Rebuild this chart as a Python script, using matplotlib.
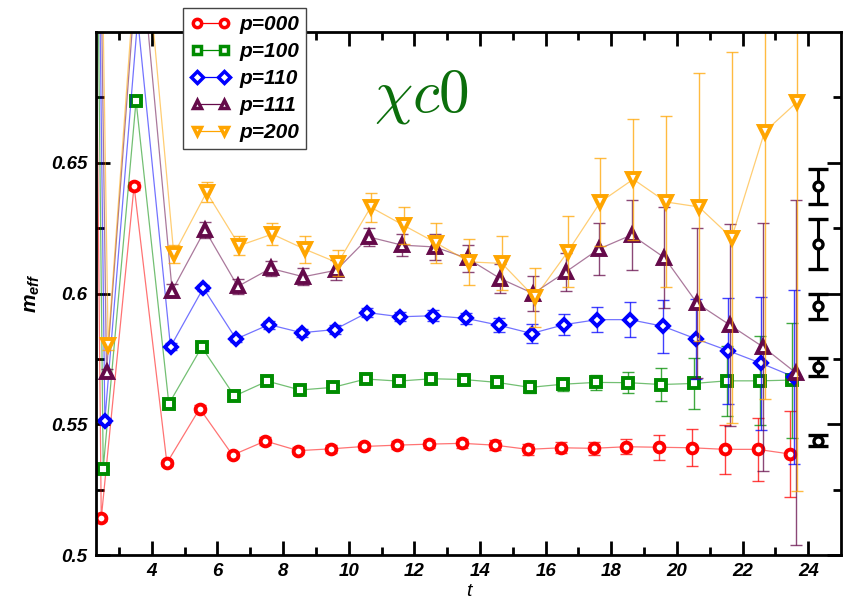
import matplotlib
matplotlib.use("Agg")
import matplotlib.pyplot as plt
from matplotlib.lines import Line2D
from matplotlib.ticker import FixedLocator, FormatStrFormatter

plt.rcParams['font.family'] = ['Liberation Sans', 'DejaVu Sans']
plt.rcParams['font.weight'] = 'bold'
plt.rcParams['font.style'] = 'italic'
plt.rcParams['mathtext.fontset'] = 'custom'
plt.rcParams['mathtext.it'] = 'Liberation Sans:bold:italic'
plt.rcParams['mathtext.rm'] = 'Liberation Sans:bold'

# time slices (the first one sits left of the plotted window)
t = [1.5, 2.5, 3.5, 4.5, 5.5, 6.5, 7.5, 8.5, 9.5, 10.5, 11.5, 12.5,
     13.5, 14.5, 15.5, 16.5, 17.5, 18.5, 19.5, 20.5, 21.5, 22.5, 23.5]

m_000 = [1.80, 0.5140, 0.6411, 0.5352, 0.5560, 0.5382, 0.5436, 0.5399, 0.5406, 0.5415, 0.5420, 0.5424,
         0.5427, 0.5420, 0.5404, 0.5410, 0.5408, 0.5414, 0.5412, 0.5410, 0.5404, 0.5404, 0.5386]
e_000 = [0.01, 0.0010, 0.0015, 0.0012, 0.0012, 0.0012, 0.0014, 0.0014, 0.0015, 0.0015, 0.0015, 0.0016,
         0.0017, 0.0018, 0.0020, 0.0021, 0.0024, 0.0029, 0.0047, 0.0071, 0.0094, 0.0121, 0.0165]

m_100 = [1.70, 0.5330, 0.6737, 0.5578, 0.5795, 0.5608, 0.5665, 0.5631, 0.5641, 0.5673, 0.5665, 0.5674,
         0.5671, 0.5660, 0.5641, 0.5653, 0.5660, 0.5659, 0.5652, 0.5656, 0.5666, 0.5666, 0.5669]
e_100 = [0.01, 0.0010, 0.0015, 0.0012, 0.0012, 0.0012, 0.0013, 0.0013, 0.0014, 0.0015, 0.0015, 0.0016,
         0.0018, 0.0019, 0.0021, 0.0025, 0.0030, 0.0041, 0.0062, 0.0098, 0.0134, 0.0170, 0.0220]

m_110 = [1.60, 0.5514, 0.7050, 0.5796, 0.6021, 0.5826, 0.5881, 0.5850, 0.5862, 0.5927, 0.5911, 0.5915,
         0.5905, 0.5879, 0.5847, 0.5881, 0.5900, 0.5900, 0.5875, 0.5827, 0.5781, 0.5733, 0.5681]
e_110 = [0.01, 0.0010, 0.0020, 0.0013, 0.0013, 0.0013, 0.0015, 0.0016, 0.0017, 0.0018, 0.0018, 0.0020,
         0.0022, 0.0027, 0.0035, 0.0040, 0.0048, 0.0068, 0.0102, 0.0153, 0.0203, 0.0255, 0.0333]

m_111 = [1.50, 0.5700, 0.7370, 0.6011, 0.6243, 0.6027, 0.6096, 0.6064, 0.6089, 0.6216, 0.6185, 0.6178,
         0.6134, 0.6057, 0.6000, 0.6083, 0.6170, 0.6224, 0.6137, 0.5962, 0.5879, 0.5796, 0.5697]
e_111 = [0.01, 0.0012, 0.0030, 0.0025, 0.0030, 0.0028, 0.0028, 0.0033, 0.0038, 0.0036, 0.0042, 0.0050,
         0.0053, 0.0054, 0.0067, 0.0073, 0.0098, 0.0134, 0.0192, 0.0287, 0.0387, 0.0475, 0.0660]

m_200 = [1.40, 0.5803, 0.7540, 0.6150, 0.6387, 0.6183, 0.6227, 0.6169, 0.6117, 0.6330, 0.6261, 0.6193,
         0.6121, 0.6115, 0.5985, 0.6159, 0.6350, 0.6437, 0.6350, 0.6331, 0.6213, 0.6618, 0.6733]
e_200 = [0.01, 0.0020, 0.0040, 0.0035, 0.0038, 0.0035, 0.0043, 0.0052, 0.0049, 0.0055, 0.0070, 0.0077,
         0.0089, 0.0103, 0.0113, 0.0136, 0.0168, 0.0232, 0.0327, 0.0514, 0.0709, 0.1020, 0.1490]

# plateau fits, one per momentum
fit_t = 24.3
fit_m = [0.6410, 0.6188, 0.5951, 0.5720, 0.5437]
fit_e = [0.0068, 0.0096, 0.0049, 0.0035, 0.0020]

labels = ['p=000', 'p=100', 'p=110', 'p=111', 'p=200']
values = [m_000, m_100, m_110, m_111, m_200]
errors = [e_000, e_100, e_110, e_111, e_200]
colors = ['#ff0000', '#008c00', '#0000ff', '#650a4a', '#ffa500']
markers = ['o', 's', 'D', '^', 'v']
msizes = [7, 6.5, 6.5, 8, 8]
shifts = [-0.04, 0.02, 0.07, 0.12, 0.17]

fig = plt.figure(figsize=(8.46, 6.03), dpi=100)
ax = fig.add_axes([96 / 846, 1 - 555 / 603, (841 - 96) / 846, (555 - 32) / 603])

handles = []
for m, e, c, mk, ms, dx, lab in zip(values, errors, colors, markers, msizes, shifts, labels):
    x = [ti + dx for ti in t]
    ax.plot(x, m, '-', color=c, lw=0.9, alpha=0.55)
    ax.errorbar(x, m, yerr=e, fmt='none', ecolor=c, elinewidth=1.0,
                capsize=4.5, capthick=1.0, alpha=0.75)
    ax.plot(x, m, ls='none', marker=mk, ms=ms, mfc='white', mec=c, mew=2.8)
    handles.append(Line2D([], [], color=c, lw=0.9, marker=mk, ms=6,
                          mfc='white', mec=c, mew=2.5, label=lab))

ax.errorbar([fit_t] * len(fit_m), fit_m, yerr=fit_e, fmt='o', ms=6.5, mfc='white',
            mec='black', mew=2.4, ecolor='black', elinewidth=2.2,
            capsize=7, capthick=2.2, zorder=5)

ax.set_xlim(2.3, 25.0)
ax.set_ylim(0.5, 0.7)
ax.xaxis.set_major_locator(FixedLocator(list(range(4, 25, 2))))
ax.xaxis.set_minor_locator(FixedLocator(list(range(3, 25, 2))))
ax.yaxis.set_major_locator(FixedLocator([0.5, 0.55, 0.6, 0.65]))
ax.yaxis.set_minor_locator(FixedLocator([0.525, 0.575, 0.625, 0.675]))
ax.yaxis.set_major_formatter(FormatStrFormatter('%g'))
ax.tick_params(which='both', direction='in', top=True, right=True, width=2.0)
ax.tick_params(which='major', length=10, labelsize=13.5, pad=6)
ax.tick_params(which='minor', length=6)
for s in ax.spines.values():
    s.set_linewidth(2.0)

ax.set_xlabel('t', fontsize=14, labelpad=2)
ax.set_ylabel(r'$m_{eff}$', fontsize=15)
ax.yaxis.set_label_coords(-0.072, 0.5)

ax.text(0.437, 0.875, r'$\chi c0$', transform=ax.transAxes, fontsize=44,
        color='#0b6e0b', math_fontfamily='cm', ha='center', va='center')

leg = ax.legend(handles=handles, loc='upper left', bbox_to_anchor=(183 / 846, 1 - 8 / 603),
                bbox_transform=fig.transFigure, numpoints=2, fontsize=15,
                handlelength=1.9, handletextpad=0.45, labelspacing=0.38,
                borderpad=0.35, borderaxespad=0, fancybox=False, framealpha=1)
leg.get_frame().set_edgecolor('#444444')
leg.get_frame().set_linewidth(1.0)

fig.savefig('out.png', dpi=100)
